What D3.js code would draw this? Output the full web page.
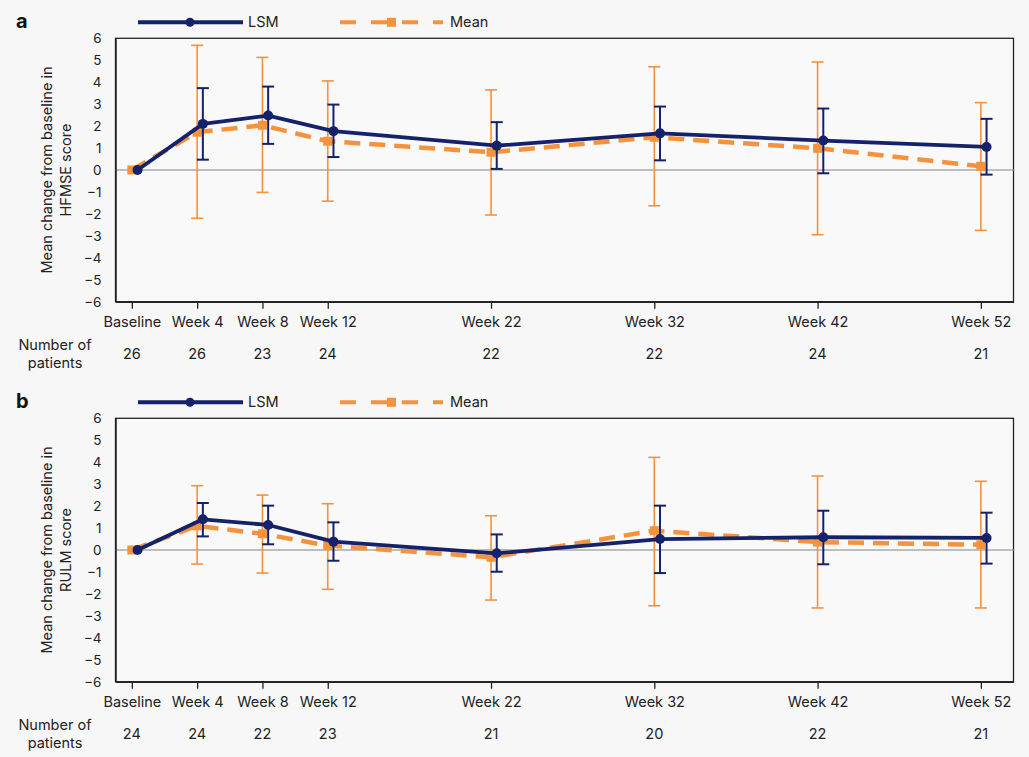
<!DOCTYPE html>
<html>
<head>
<meta charset="utf-8">
<script src="https://cdn.jsdelivr.net/npm/d3@7"></script>
<style>
  html, body { margin: 0; padding: 0; background: #f7f7f7; }
  svg { display: block; font-family: Inter, Roboto, "Liberation Sans", sans-serif; }
</style>
</head>
<body>
<svg id="chart" width="1029" height="757"></svg>
<script>
// ---- data ----
const weeks = [0, 4, 8, 12, 22, 32, 42, 52];
const weekLabels = ["Baseline", "Week 4", "Week 8", "Week 12", "Week 22", "Week 32", "Week 42", "Week 52"];
const yTicks = [-6, -5, -4, -3, -2, -1, 0, 1, 2, 3, 4, 5, 6];

// Panel a: HFMSE
const hfmsePatients = [26, 26, 23, 24, 22, 22, 24, 21];
const hfmseLsm      = [0, 2.1, 2.48, 1.77, 1.11, 1.67, 1.34, 1.05];
const hfmseLsmLow   = [null, 0.47, 1.19, 0.59, 0.05, 0.44, -0.15, -0.21];
const hfmseLsmHigh  = [null, 3.73, 3.8, 2.98, 2.18, 2.89, 2.8, 2.33];
const hfmseMean     = [0, 1.72, 2.04, 1.31, 0.81, 1.49, 0.99, 0.17];
const hfmseMeanLow  = [null, -2.2, -1.02, -1.42, -2.05, -1.63, -2.95, -2.75];
const hfmseMeanHigh = [null, 5.68, 5.13, 4.06, 3.65, 4.7, 4.92, 3.07];

// Panel b: RULM
const rulmPatients = [24, 24, 22, 23, 21, 20, 22, 21];
const rulmLsm      = [0, 1.4, 1.14, 0.38, -0.15, 0.5, 0.58, 0.55];
const rulmLsmLow   = [null, 0.62, 0.26, -0.49, -0.99, -1.05, -0.65, -0.62];
const rulmLsmHigh  = [null, 2.14, 2.02, 1.26, 0.71, 2.02, 1.79, 1.7];
const rulmMean     = [0, 1.1, 0.74, 0.2, -0.33, 0.88, 0.36, 0.24];
const rulmMeanLow  = [null, -0.64, -1.05, -1.79, -2.28, -2.54, -2.64, -2.64];
const rulmMeanHigh = [null, 2.93, 2.5, 2.11, 1.56, 4.22, 3.37, 3.13];

const NAVY = "#13226a";
const ORANGE = "#f5923e";
const lsmOffset = 0.35; // dodge in weeks
const FS = 14.5;

const svg = d3.select("#chart");

function panel(cfg) {
  const top = cfg.top, bottom = cfg.top + 263.4;
  const x = d3.scaleLinear().domain([-1, 54]).range([115.5, 1013.5]);
  const y = d3.scaleLinear().domain([-6, 6]).range([bottom, top]);
  const g = svg.append("g");

  // panel letter
  g.append("text").attr("x", 16).attr("y", cfg.top - 10)
    .attr("font-size", 20).attr("font-weight", "bold").attr("fill", "#111")
    .text(cfg.letter);

  // legend
  const ly = cfg.top - 16;
  g.append("line").attr("x1", 138).attr("x2", 243).attr("y1", ly).attr("y2", ly)
    .attr("stroke", NAVY).attr("stroke-width", 4);
  g.append("circle").attr("cx", 190).attr("cy", ly).attr("r", 4.5).attr("fill", NAVY);
  g.append("text").attr("x", 248).attr("y", ly + 5).attr("font-size", FS).attr("fill", "#222").text("LSM");
  g.append("line").attr("x1", 340).attr("x2", 443).attr("y1", ly).attr("y2", ly)
    .attr("stroke", ORANGE).attr("stroke-width", 4).attr("stroke-dasharray", "16,15");
  g.append("rect").attr("x", 387).attr("y", ly - 4.5).attr("width", 9).attr("height", 9).attr("fill", ORANGE);
  g.append("text").attr("x", 450).attr("y", ly + 5).attr("font-size", FS).attr("fill", "#222").text("Mean");

  // frame
  g.append("rect").attr("x", x(-1)).attr("y", top).attr("width", x(54) - x(-1)).attr("height", bottom - top)
    .attr("fill", "#f9f9f9").attr("stroke", "#222").attr("stroke-width", 1.3);

  // zero line
  g.append("line").attr("x1", x(-1)).attr("x2", x(54)).attr("y1", y(0)).attr("y2", y(0))
    .attr("stroke", "#aaa").attr("stroke-width", 1.5);

  // y axis
  const ya = g.append("g").attr("transform", `translate(${x(-1)},0)`)
    .call(d3.axisLeft(y).tickValues(yTicks).tickSize(0).tickPadding(14));
  ya.select(".domain").attr("stroke", "#222").attr("stroke-width", 1.5);
  ya.selectAll("text").attr("font-size", 13.5).attr("fill", "#222").attr("font-family", "Inter, Roboto, sans-serif");

  // x axis
  const xa = g.append("g").attr("transform", `translate(0,${bottom})`)
    .call(d3.axisBottom(x).tickValues(weeks).tickFormat((d, i) => weekLabels[i]).tickSize(7).tickPadding(8).tickSizeOuter(0));
  xa.select(".domain").attr("stroke", "#222").attr("stroke-width", 1.5);
  xa.selectAll(".tick line").attr("stroke", "#222").attr("stroke-width", 1.3);
  xa.selectAll("text").attr("font-size", FS).attr("fill", "#222").attr("font-family", "Inter, Roboto, sans-serif");

  // y title
  const cy = (top + bottom) / 2;
  const yt = g.append("text").attr("transform", `translate(52,${cy}) rotate(-90)`)
    .attr("text-anchor", "middle").attr("font-size", FS).attr("fill", "#222");
  yt.append("tspan").attr("x", 0).attr("dy", 0).text("Mean change from baseline in");
  yt.append("tspan").attr("x", 0).attr("dy", 19).text(cfg.score);

  // patients row
  g.append("text").attr("x", 55).attr("y", bottom + 48).attr("text-anchor", "middle")
    .attr("font-size", FS).attr("fill", "#222").text("Number of");
  g.append("text").attr("x", 55).attr("y", bottom + 66).attr("text-anchor", "middle")
    .attr("font-size", FS).attr("fill", "#222").text("patients");
  g.selectAll(".npat").data(cfg.patients).enter().append("text")
    .attr("x", (d, i) => x(weeks[i])).attr("y", bottom + 57).attr("text-anchor", "middle")
    .attr("font-size", FS).attr("fill", "#222").text(d => d);

  // mean error bars
  const cap = 6;
  weeks.forEach((w, i) => {
    if (cfg.meanLow[i] === null) return;
    const cx = x(w);
    const eb = g.append("g").attr("stroke", ORANGE).attr("stroke-width", 1.6);
    eb.append("line").attr("x1", cx).attr("x2", cx).attr("y1", y(cfg.meanLow[i])).attr("y2", y(cfg.meanHigh[i]));
    eb.append("line").attr("x1", cx - cap).attr("x2", cx + cap).attr("y1", y(cfg.meanLow[i])).attr("y2", y(cfg.meanLow[i]));
    eb.append("line").attr("x1", cx - cap).attr("x2", cx + cap).attr("y1", y(cfg.meanHigh[i])).attr("y2", y(cfg.meanHigh[i]));
  });

  // mean line
  const lineMean = d3.line().x((d, i) => x(weeks[i])).y(d => y(d));
  g.append("path").datum(cfg.mean).attr("d", lineMean).attr("fill", "none")
    .attr("stroke", ORANGE).attr("stroke-width", 4.5).attr("stroke-dasharray", "16,9");
  g.selectAll(".msq").data(cfg.mean).enter().append("rect")
    .attr("x", (d, i) => x(weeks[i]) - 4.5).attr("y", d => y(d) - 4.5)
    .attr("width", 9).attr("height", 9).attr("fill", ORANGE);

  // LSM error bars
  weeks.forEach((w, i) => {
    if (cfg.lsmLow[i] === null) return;
    const cx = x(w + lsmOffset);
    const eb = g.append("g").attr("stroke", NAVY).attr("stroke-width", 2);
    eb.append("line").attr("x1", cx).attr("x2", cx).attr("y1", y(cfg.lsmLow[i])).attr("y2", y(cfg.lsmHigh[i]));
    eb.append("line").attr("x1", cx - cap).attr("x2", cx + cap).attr("y1", y(cfg.lsmLow[i])).attr("y2", y(cfg.lsmLow[i]));
    eb.append("line").attr("x1", cx - cap).attr("x2", cx + cap).attr("y1", y(cfg.lsmHigh[i])).attr("y2", y(cfg.lsmHigh[i]));
  });

  // LSM line
  const lineLsm = d3.line().x((d, i) => x(weeks[i] + lsmOffset)).y(d => y(d));
  g.append("path").datum(cfg.lsm).attr("d", lineLsm).attr("fill", "none")
    .attr("stroke", NAVY).attr("stroke-width", 3.8).attr("stroke-linejoin", "round");
  g.selectAll(".lcirc").data(cfg.lsm).enter().append("circle")
    .attr("cx", (d, i) => x(weeks[i] + lsmOffset)).attr("cy", d => y(d)).attr("r", 5).attr("fill", NAVY);
}

panel({
  letter: "a", top: 38.3, score: "HFMSE score", patients: hfmsePatients,
  lsm: hfmseLsm, lsmLow: hfmseLsmLow, lsmHigh: hfmseLsmHigh,
  mean: hfmseMean, meanLow: hfmseMeanLow, meanHigh: hfmseMeanHigh
});
panel({
  letter: "b", top: 418.3, score: "RULM score", patients: rulmPatients,
  lsm: rulmLsm, lsmLow: rulmLsmLow, lsmHigh: rulmLsmHigh,
  mean: rulmMean, meanLow: rulmMeanLow, meanHigh: rulmMeanHigh
});
</script>
</body>
</html>
